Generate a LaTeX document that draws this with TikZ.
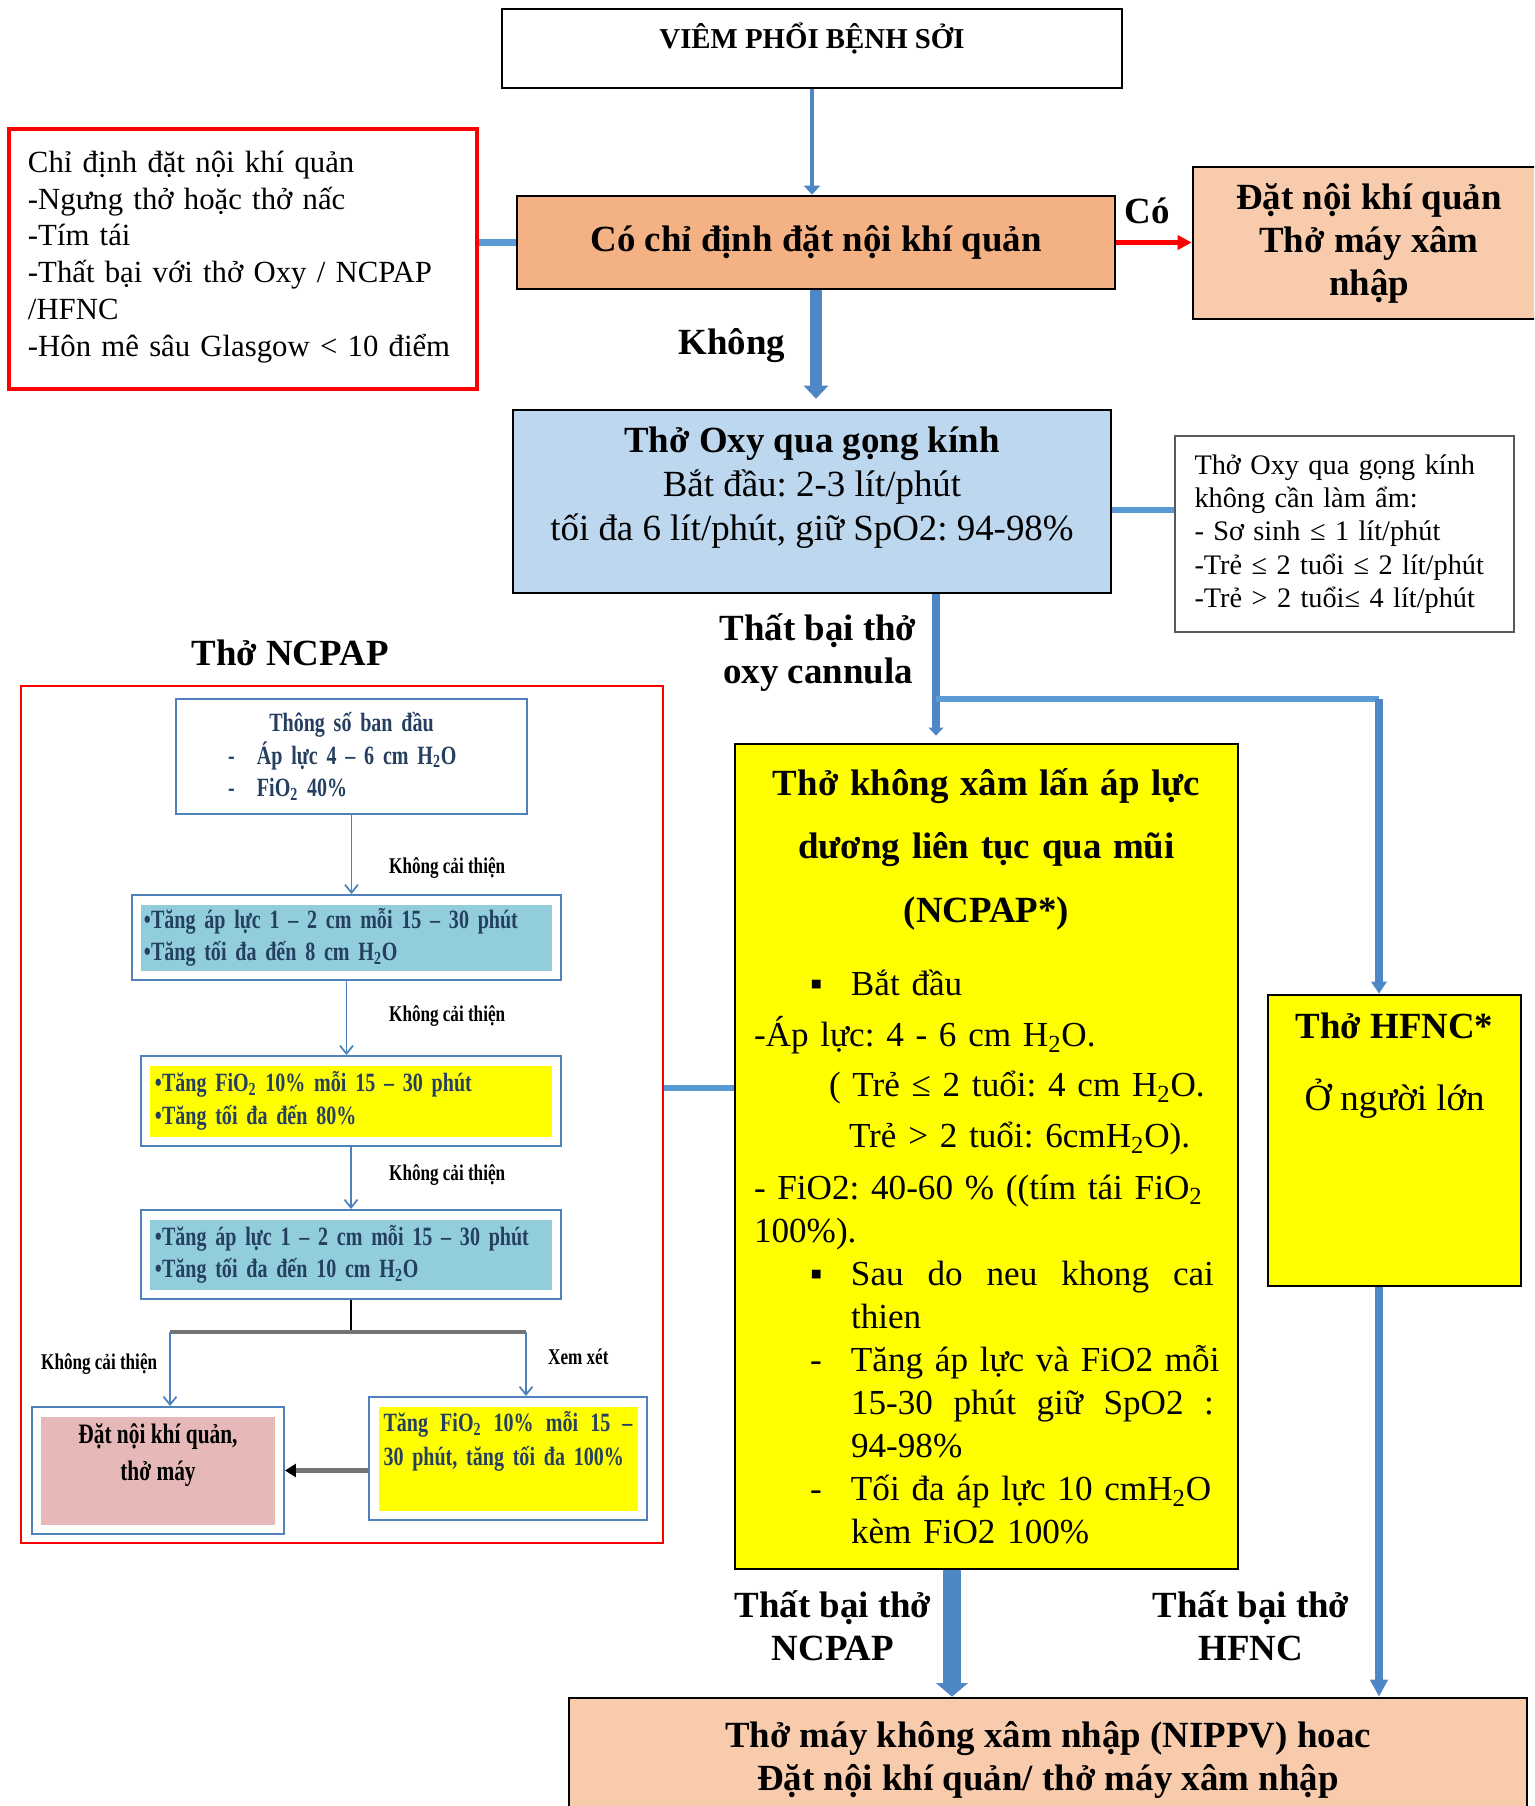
\documentclass[tikz,border=0pt]{standalone}
\usepackage{fontspec}
\setmainfont{Liberation Serif}
\newfontfamily\hep[FakeStretch=0.76]{Liberation Serif}
\usetikzlibrary{positioning,calc,arrows.meta}
\definecolor{camdam}{HTML}{F4B183}
\definecolor{camnhat}{HTML}{F8CBAD}
\definecolor{xanhnhat}{HTML}{BDD7EE}
\definecolor{xanhnoi}{HTML}{5B9BD5}
\definecolor{xanhmui}{HTML}{4F86C6}
\definecolor{xanhvien}{HTML}{4F81BD}
\definecolor{xanhngoc}{HTML}{92CDDC}
\definecolor{hong}{HTML}{E6B9B8}
\definecolor{vang}{HTML}{FFFF00}
\definecolor{chuxanh}{HTML}{243F60}
\frenchspacing
\newcommand\dongvao[2]{\hspace*{11.2mm}\makebox[8.2mm][l]{#1}\mbox{#2}}

\begin{document}
\begin{tikzpicture}[x=0.2mm,y=-0.2mm,
 box/.style={draw=black,line width=1.5pt,align=center,inner sep=0pt},
 nhan/.style={font=\fontsize{21}{24.5}\selectfont\bfseries,align=center},
 noi/.style={draw=xanhnoi,line width=3.6pt},
 mui/.style={draw=xanhmui,line width=4pt,-{Triangle[length=1.8mm,width=3mm]}},
 beo/.style={draw=xanhmui,line width=6.3pt,-{Triangle[length=2.6mm,width=4.8mm]}},
 hop/.style={draw=xanhvien,line width=1.1pt,fill=white,inner sep=0pt,text=chuxanh,
  font=\hep\bfseries\fontsize{15}{18.6}\selectfont,
  path picture={\fill[#1] ([shift={(1.9mm,1.9mm)}]path picture bounding box.south west) rectangle ([shift={(-1.9mm,-1.9mm)}]path picture bounding box.north east);}},
 hop/.default=white,
 subnhan/.style={font=\hep\bfseries\fontsize{12.8}{15}\selectfont,anchor=west},
 submui/.style={draw=xanhvien,line width=1pt,-{Straight Barb[length=1.6mm,width=2.6mm]}},
 xam/.style={draw=black!55,line width=2.3pt}]
\useasboundingbox (0,0) rectangle (1534,1806);
\clip (0,0) rectangle (1534,1806);

\node[box,minimum width=124mm,minimum height=15.8mm,font=\fontsize{16.4}{19}\selectfont\bfseries,
 text height=12pt,text depth=12.5pt] (viem) at (812,48.5) {VIÊM PHỔI BỆNH SỞI};
\node[box,fill=camdam,minimum width=119.6mm,minimum height=18.6mm,
 font=\fontsize{21}{24}\selectfont\bfseries] (chidinh) at (816,242.5) {Có chỉ định đặt nội khí quản};
\node[draw=red,line width=2.3pt,minimum width=93.6mm,minimum height=52mm,text width=86mm,
 align=left,inner sep=0pt,font=\fontsize{17.5}{21}\selectfont,text depth=111pt] (dsct) at (243,259)
 {Chỉ định đặt nội khí quản\\-Ngưng thở hoặc thở nấc\\-Tím tái\\-Thất bại với thở Oxy / NCPAP\\/HFNC\\-Hôn mê sâu Glasgow < 10 điểm};
\node[box,fill=camnhat,minimum width=70.4mm,minimum height=30.4mm,
 font=\fontsize{21}{24.5}\selectfont\bfseries] (datnoi) at (1369,243) {Đặt nội khí quản\\Thở máy xâm\\nhập};
\node[nhan] (co) at (1147,211) {Có};
\node[nhan] (khong) at (732,346) {Không};

\node[box,fill=xanhnhat,minimum width=119.6mm,minimum height=36.6mm,font=\fontsize{21}{25}\selectfont,
 text depth=20.6pt] (oxy) at (812,501.5)
 {\textbf{Thở Oxy qua gọng kính}\\Bắt đầu: 2-3 lít/phút\\tối đa 6 lít/phút, giữ SpO2: 94-98\%};
\node[draw=black!65,line width=0.9pt,minimum width=67.8mm,minimum height=39.2mm,text width=60mm,
 align=left,inner sep=0pt,font=\fontsize{16.1}{19}\selectfont] (ghichu) at (1344.5,534)
 {Thở Oxy qua gọng kính\\không cần làm ẩm:\\- Sơ sinh ≤ 1 lít/phút\\-Trẻ ≤ 2 tuổi ≤ 2 lít/phút\\-Trẻ > 2 tuổi≤ 4 lít/phút};
\node[nhan] (tbo) at (818,653) {Thất bại thở\\oxy cannula};

\node[box,fill=vang,minimum width=100.6mm,minimum height=165mm,text width=93mm,align=left,
 font=\fontsize{20}{24.5}\selectfont] (ncpap) at (986.5,1156.5)
 {\makebox[93mm]{\fontsize{21}{24}\selectfont\bfseries Thở không xâm lấn áp lực}\\[11.5pt]
  \makebox[93mm]{\fontsize{21}{24}\selectfont\bfseries dương liên tục qua mũi}\\[11.9pt]
  \makebox[93mm]{\fontsize{21}{24}\selectfont\bfseries (NCPAP*)}\\[17pt]
  \dongvao{▪}{Bắt đầu}\\[4.5pt]
  \mbox{-Áp lực: 4 - 6 cm H\textsubscript{2}O.}\\[4pt]
  \hspace*{15mm}\mbox{( Trẻ ≤ 2 tuổi: 4 cm H\textsubscript{2}O.}\\[4.5pt]
  \hspace*{19mm}\mbox{Trẻ > 2 tuổi: 6cmH\textsubscript{2}O).}\\[5pt]
  \mbox{- FiO2: 40-60 \% ((tím tái FiO\textsubscript{2}}\\
  100\%).\\
  \dongvao{▪}{\makebox[72.6mm][l]{Sau\hfill do\hfill neu\hfill khong\hfill cai}}\\
  \hspace*{19.4mm}thien\\
  \dongvao{-}{Tăng áp lực và FiO2 mỗi}\\
  \hspace*{19.4mm}\makebox[72.6mm][l]{15-30\hfill phút\hfill giữ\hfill SpO2\hfill :}\\
  \hspace*{19.4mm}94-98\%\\
  \dongvao{-}{Tối đa áp lực 10 cmH\textsubscript{2}O}\\
  \hspace*{19.4mm}kèm FiO2 100\%};
\node[box,fill=vang,minimum width=50.6mm,minimum height=58.2mm,font=\fontsize{21}{25}\selectfont,
 text depth=90pt] (hfnc) at (1394.5,1140.5) {\textbf{Thở HFNC*}\\[16pt]Ở người lớn};
\node[box,fill=camnhat,minimum width=191.6mm,minimum height=24.8mm,
 font=\fontsize{21}{24.5}\selectfont\bfseries] (nippv) at (1048,1760)
 {Thở máy không xâm nhập (NIPPV) hoac\\Đặt nội khí quản/ thở máy xâm nhập};
\node[nhan] (tbn) at (833,1625.5) {Thất bại thở\\NCPAP};
\node[nhan] (tbh) at (1251,1625.5) {Thất bại thở\\HFNC};

\node[nhan] (tieude) at (290,653) {Thở NCPAP};
\node[draw=red,line width=1.1pt,minimum width=128.4mm,minimum height=171.4mm] (khung) at (342,1114.5) {};
\node[hop,minimum width=70.2mm,minimum height=23mm,text width=70.2mm,align=left] (s1) at (351.5,756.5)
 {\makebox[70.2mm]{Thông số ban đầu}\\
  \hspace*{10.4mm}\makebox[5.8mm][l]{-}Áp lực 4 – 6 cm H\textsubscript{2}O\\
  \hspace*{10.4mm}\makebox[5.8mm][l]{-}FiO\textsubscript{2}\ 40\%};
\node[hop=xanhngoc,minimum width=85.8mm,minimum height=17mm,text width=81mm,align=left] (s2) at (346.5,937.5)
 {•Tăng áp lực 1 – 2 cm mỗi 15 – 30 phút\\•Tăng tối đa đến 8 cm H\textsubscript{2}O};
\node[hop=vang,minimum width=84mm,minimum height=18mm,text width=78.4mm,align=left] (s3) at (351,1101)
 {•Tăng FiO\textsubscript{2} 10\% mỗi 15 – 30 phút\\•Tăng tối đa đến 80\%};
\node[hop=xanhngoc,minimum width=84mm,minimum height=17.8mm,text width=78.4mm,align=left] (s4) at (351,1254.5)
 {•Tăng áp lực 1 – 2 cm mỗi 15 – 30 phút\\•Tăng tối đa đến 10 cm H\textsubscript{2}O};
\node[hop=hong,text=black,minimum width=50.4mm,minimum height=25.4mm,align=center,
 font=\hep\bfseries\fontsize{16}{18.6}\selectfont,text depth=20.6pt] (s5) at (158,1470.5)
 {Đặt nội khí quản,\\[2.4pt]thở máy};
\node[hop=vang,minimum width=55.6mm,minimum height=24.6mm,text width=49.8mm,align=left,text depth=42pt] (s6) at (508,1458.5)
 {\makebox[49.8mm][l]{Tăng\hfill FiO\textsubscript{2}\hfill 10\%\hfill mỗi\hfill 15\hfill –}\\[0.7pt]30 phút, tăng tối đa 100\%};
\node[subnhan] (kct1) at (383,868) {Không cải thiện};
\node[subnhan] (kct2) at (383,1016) {Không cải thiện};
\node[subnhan] (kct3) at (383,1175) {Không cải thiện};
\node[subnhan] (kct4) at (35,1364) {Không cải thiện};
\node[subnhan] (xemxet) at (542,1357) {Xem xét};

\coordinate (tach) at (936,699);
\coordinate (tachphai) at (1379,699);
\coordinate (ngang) at (700,1088);
\coordinate (nhanhtrai) at (170,1332);
\coordinate (nhanhphai) at (526,1332);

\draw[mui,line width=2.6pt,-{Triangle[length=1.8mm,width=3.2mm]}] (viem.south) -- (viem.south |- chidinh.north);
\draw[noi] (dsct.east |- chidinh.west) -- (chidinh.west);
\draw[red,line width=2.6pt,-{Triangle[length=2.8mm,width=2.8mm]}] (chidinh.east) -- (chidinh.east -| datnoi.west);
\draw[beo,shorten >=2mm] (chidinh.south) -- (chidinh.south |- oxy.north);
\draw[noi] ([yshift=-1.7mm]oxy.east) -- ([yshift=-1.7mm]oxy.east -| ghichu.west);
\draw[mui,shorten >=1.4mm,-{Triangle[length=1.6mm,width=2.9mm]}] (oxy.south -| tach) -- (ncpap.north -| tach);
\draw[noi] (tach) -- (tachphai);
\draw[mui,-{Triangle[length=2.4mm,width=3mm]}] (tachphai) -- (tachphai |- hfnc.north);
\draw[mui,-{Triangle[length=3.4mm,width=3.4mm]}] (hfnc.south -| tachphai) -- (tachphai |- nippv.north);
\draw[beo,line width=9.7pt,-{Triangle[length=2.7mm,width=6.2mm]}] ([xshift=-6.9mm]ncpap.south) -- ([xshift=-6.9mm]ncpap.south |- nippv.north);
\draw[noi] (khung.east |- ngang) -- (ncpap.west |- ngang);

\draw[submui] (s1.south) -- (s1.south |- s2.north);
\draw[submui] (s2.south) -- (s2.south |- s3.north);
\draw[submui] (s3.south) -- (s3.south |- s4.north);
\draw[black,line width=0.9pt] (s4.south) -- (s4.south |- nhanhtrai);
\draw[xam] (nhanhtrai) -- (nhanhphai);
\draw[submui] (nhanhtrai) -- (nhanhtrai |- s5.north);
\draw[submui] (nhanhphai) -- (nhanhphai |- s6.north);
\draw[xam,-{Triangle[length=2.2mm,width=2.6mm,color=black]}] (s6.west |- s5.east) -- (s5.east);
\end{tikzpicture}
\end{document}
